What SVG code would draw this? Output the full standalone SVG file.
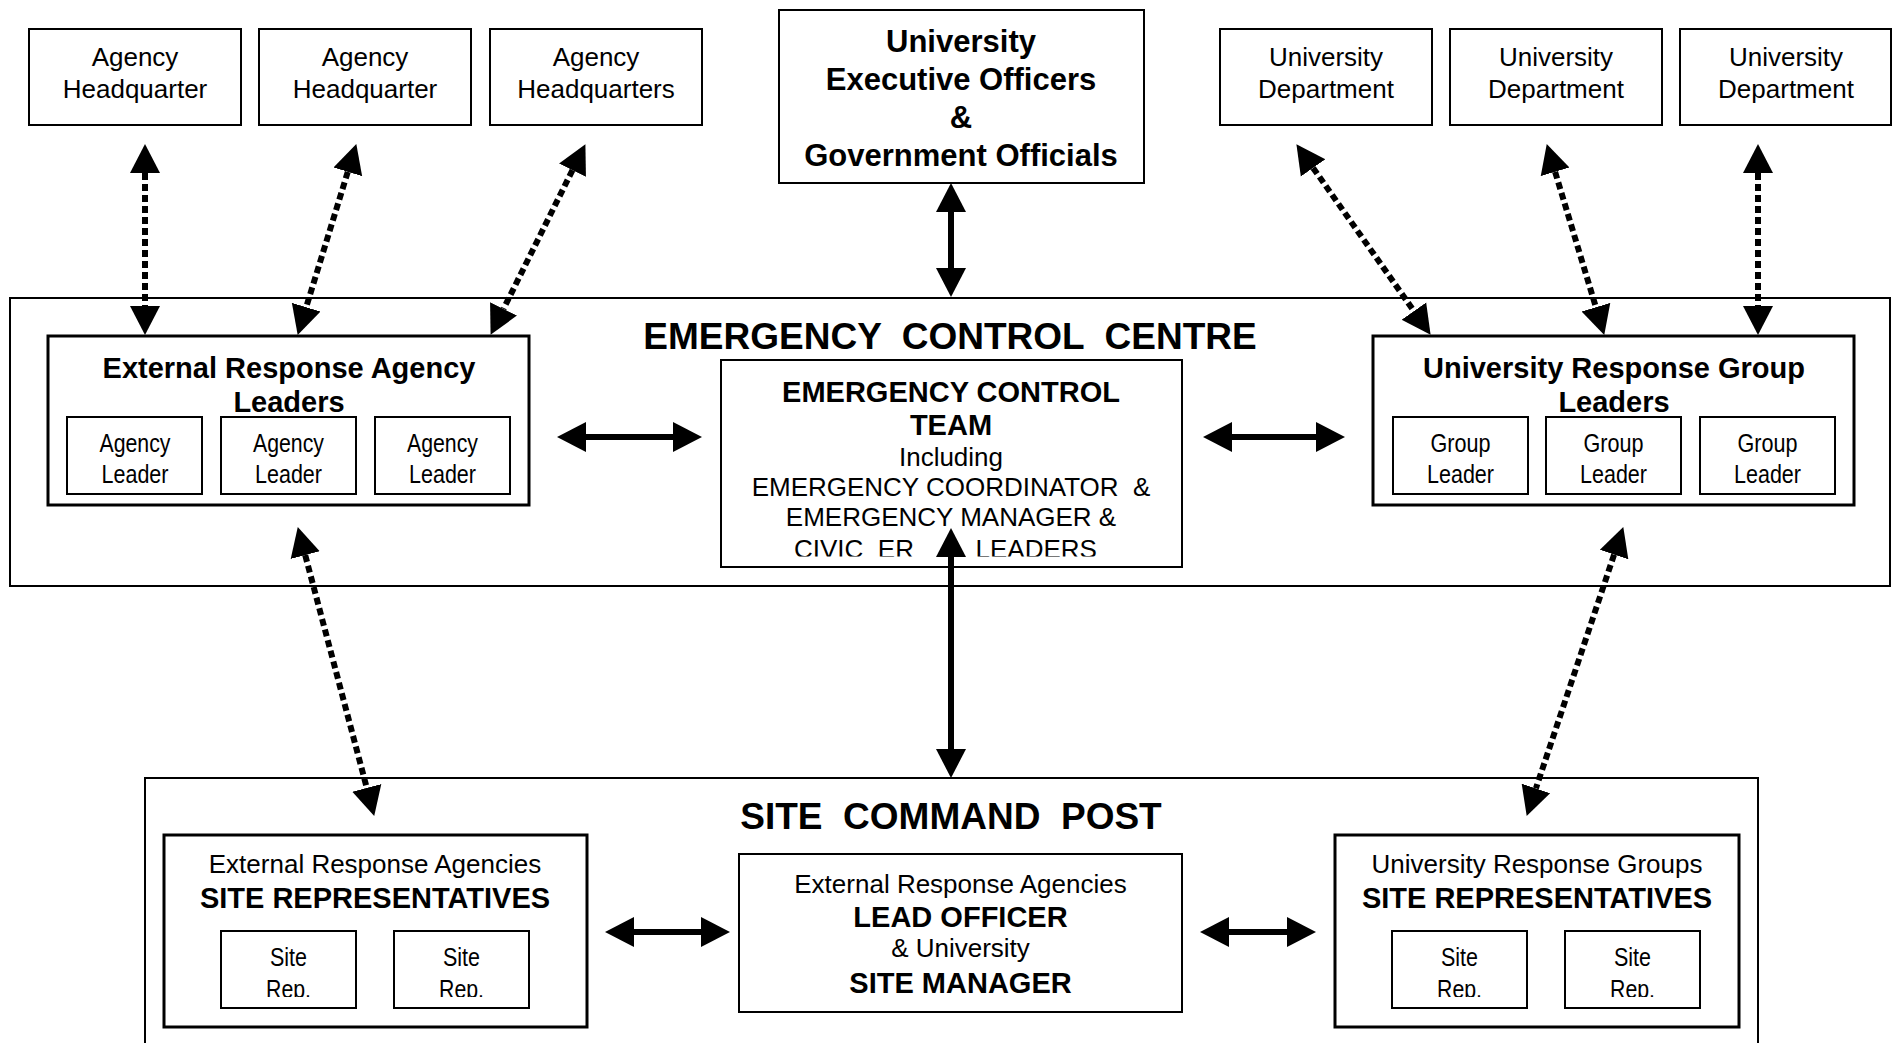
<svg xmlns="http://www.w3.org/2000/svg" width="1893" height="1043" viewBox="0 0 1893 1043">
<style>
.box{fill:#fff;stroke:#000;stroke-width:2}
.thk{stroke-width:3}
.r{font-family:"Liberation Sans",Arial,sans-serif;font-size:26px;text-anchor:middle;fill:#000}
.b{font-family:"Liberation Sans",Arial,sans-serif;font-weight:bold;font-size:29px;text-anchor:middle;fill:#000}
.h{font-size:37px}
.t{font-size:31px}
.n{font-family:"Liberation Sans Narrow","Arial Narrow","Liberation Sans",sans-serif;font-size:26px;text-anchor:middle;fill:#000}
.ln{fill:none;stroke:#000;stroke-width:6;marker-start:url(#ah);marker-end:url(#ah)}
.dot{stroke-dasharray:7 4}
</style>
<defs>
<marker id="ah" markerUnits="userSpaceOnUse" markerWidth="30" markerHeight="32" viewBox="0 0 30 32" refX="0" refY="16" orient="auto-start-reverse"><path d="M0,1 L29,16 L0,31 Z" fill="#000"/></marker>
<clipPath id="clipEct"><rect x="700" y="350" width="500" height="206.5"/></clipPath>
<clipPath id="clipRep"><rect x="0" y="900" width="1893" height="97"/></clipPath>
</defs>

<g id="ecc">
<rect class="box" x="10" y="298" width="1880" height="288"/>
<text class="b h" x="950" y="349" xml:space="preserve">EMERGENCY  CONTROL  CENTRE</text>
</g>

<g id="scp">
<rect class="box" x="145" y="778" width="1613" height="300"/>
<text class="b h" x="951" y="829" xml:space="preserve">SITE  COMMAND  POST</text>
</g>

<g id="hq1"><rect class="box" x="29" y="29" width="212" height="96"/><text class="r" x="135" y="66">Agency</text><text class="r" x="135" y="98">Headquarter</text></g>
<g id="hq2"><rect class="box" x="259" y="29" width="212" height="96"/><text class="r" x="365" y="66">Agency</text><text class="r" x="365" y="98">Headquarter</text></g>
<g id="hq3"><rect class="box" x="490" y="29" width="212" height="96"/><text class="r" x="596" y="66">Agency</text><text class="r" x="596" y="98">Headquarters</text></g>

<g id="ueo"><rect class="box" x="779" y="10" width="365" height="173"/>
<text class="b t" x="961" y="52">University</text>
<text class="b t" x="961" y="90">Executive Officers</text>
<text class="b t" x="961" y="128">&amp;</text>
<text class="b t" x="961" y="166">Government Officials</text></g>

<g id="ud1"><rect class="box" x="1220" y="29" width="212" height="96"/><text class="r" x="1326" y="66">University</text><text class="r" x="1326" y="98">Department</text></g>
<g id="ud2"><rect class="box" x="1450" y="29" width="212" height="96"/><text class="r" x="1556" y="66">University</text><text class="r" x="1556" y="98">Department</text></g>
<g id="ud3"><rect class="box" x="1680" y="29" width="211" height="96"/><text class="r" x="1786" y="66">University</text><text class="r" x="1786" y="98">Department</text></g>

<g id="era-leaders"><rect class="box thk" x="48" y="336" width="481" height="169"/>
<text class="b" x="289" y="378">External Response Agency</text>
<text class="b" x="289" y="412">Leaders</text></g>
<g id="agency-leader-1"><rect class="box" x="67" y="417" width="135" height="77"/><text class="n" x="135" y="452" textLength="71" lengthAdjust="spacingAndGlyphs">Agency</text><text class="n" x="135" y="483" textLength="67" lengthAdjust="spacingAndGlyphs">Leader</text></g>
<g id="agency-leader-2"><rect class="box" x="221" y="417" width="135" height="77"/><text class="n" x="288.5" y="452" textLength="71" lengthAdjust="spacingAndGlyphs">Agency</text><text class="n" x="288.5" y="483" textLength="67" lengthAdjust="spacingAndGlyphs">Leader</text></g>
<g id="agency-leader-3"><rect class="box" x="375" y="417" width="135" height="77"/><text class="n" x="442.5" y="452" textLength="71" lengthAdjust="spacingAndGlyphs">Agency</text><text class="n" x="442.5" y="483" textLength="67" lengthAdjust="spacingAndGlyphs">Leader</text></g>

<g id="ect"><rect class="box" x="721" y="360" width="461" height="207"/>
<text class="b" x="951" y="402">EMERGENCY CONTROL</text>
<text class="b" x="951" y="435">TEAM</text>
<text class="r" x="951" y="466">Including</text>
<text class="r" x="951" y="496" xml:space="preserve">EMERGENCY COORDINATOR  &amp;</text>
<text class="r" x="951" y="526">EMERGENCY MANAGER &amp;</text>
<g clip-path="url(#clipEct)">
<text class="r" x="794" y="558" style="text-anchor:start" xml:space="preserve">CIVIC  ER</text>
<text class="r" x="975.5" y="558" style="text-anchor:start">LEADERS</text>
</g></g>

<g id="urg-leaders"><rect class="box thk" x="1373" y="336" width="481" height="169"/>
<text class="b" x="1614" y="378">University Response Group</text>
<text class="b" x="1614" y="412">Leaders</text></g>
<g id="group-leader-1"><rect class="box" x="1393" y="417" width="135" height="77"/><text class="n" x="1460.5" y="452" textLength="60" lengthAdjust="spacingAndGlyphs">Group</text><text class="n" x="1460.5" y="483" textLength="67" lengthAdjust="spacingAndGlyphs">Leader</text></g>
<g id="group-leader-2"><rect class="box" x="1546" y="417" width="135" height="77"/><text class="n" x="1613.5" y="452" textLength="60" lengthAdjust="spacingAndGlyphs">Group</text><text class="n" x="1613.5" y="483" textLength="67" lengthAdjust="spacingAndGlyphs">Leader</text></g>
<g id="group-leader-3"><rect class="box" x="1700" y="417" width="135" height="77"/><text class="n" x="1767.5" y="452" textLength="60" lengthAdjust="spacingAndGlyphs">Group</text><text class="n" x="1767.5" y="483" textLength="67" lengthAdjust="spacingAndGlyphs">Leader</text></g>

<g id="era-site"><rect class="box thk" x="164" y="835" width="423" height="192"/>
<text class="r" x="375" y="873">External Response Agencies</text>
<text class="b" x="375" y="908">SITE REPRESENTATIVES</text></g>
<g id="era-rep-1"><rect class="box" x="221" y="931" width="135" height="77"/><g clip-path="url(#clipRep)"><text class="n" x="288.5" y="966" textLength="37" lengthAdjust="spacingAndGlyphs">Site</text><text class="n" x="288.5" y="998" textLength="45" lengthAdjust="spacingAndGlyphs">Rep.</text></g></g>
<g id="era-rep-2"><rect class="box" x="394" y="931" width="135" height="77"/><g clip-path="url(#clipRep)"><text class="n" x="461.5" y="966" textLength="37" lengthAdjust="spacingAndGlyphs">Site</text><text class="n" x="461.5" y="998" textLength="45" lengthAdjust="spacingAndGlyphs">Rep.</text></g></g>

<g id="lead-officer"><rect class="box" x="739" y="854" width="443" height="158"/>
<text class="r" x="960.5" y="893">External Response Agencies</text>
<text class="b" x="960.5" y="927">LEAD OFFICER</text>
<text class="r" x="960.5" y="957">&amp; University</text>
<text class="b" x="960.5" y="993">SITE MANAGER</text></g>

<g id="urg-site"><rect class="box thk" x="1335" y="835" width="404" height="192"/>
<text class="r" x="1537" y="873">University Response Groups</text>
<text class="b" x="1537" y="908">SITE REPRESENTATIVES</text></g>
<g id="urg-rep-1"><rect class="box" x="1392" y="931" width="135" height="77"/><g clip-path="url(#clipRep)"><text class="n" x="1459.5" y="966" textLength="37" lengthAdjust="spacingAndGlyphs">Site</text><text class="n" x="1459.5" y="998" textLength="45" lengthAdjust="spacingAndGlyphs">Rep.</text></g></g>
<g id="urg-rep-2"><rect class="box" x="1565" y="931" width="135" height="77"/><g clip-path="url(#clipRep)"><text class="n" x="1632.5" y="966" textLength="37" lengthAdjust="spacingAndGlyphs">Site</text><text class="n" x="1632.5" y="998" textLength="45" lengthAdjust="spacingAndGlyphs">Rep.</text></g></g>

<g id="connectors">
<path class="ln dot" d="M145,173 L145,306"/>
<path class="ln dot" d="M347.8,171.8 L306.2,307.2"/>
<path class="ln dot" d="M572.5,170.1 L503.5,308.9"/>
<path class="ln dot" d="M1313.1,167.9 L1413.9,311.1"/>
<path class="ln dot" d="M1555.1,171.8 L1595.9,307.2"/>
<path class="ln dot" d="M1758,173 L1758,306"/>
<path class="ln" d="M951,212 L951,268"/>
<path class="ln" d="M586,437 L673,437"/>
<path class="ln" d="M1232,437 L1316,437"/>
<path class="ln" d="M951,557 L951,749"/>
<path class="ln dot" d="M305.2,555.1 L366.8,787.9"/>
<path class="ln dot" d="M1614.1,554.6 L1535.9,788.4"/>
<path class="ln" d="M634,932 L701,932"/>
<path class="ln" d="M1229,932 L1287,932"/>
</g>
</svg>
